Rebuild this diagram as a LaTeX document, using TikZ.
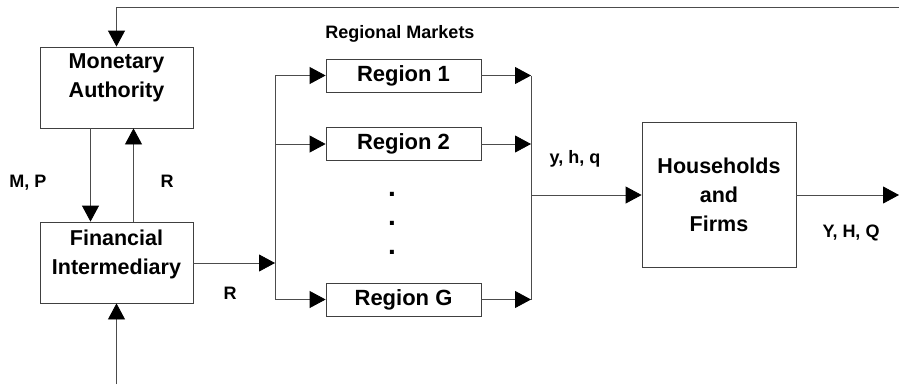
\documentclass[tikz,border=0pt]{standalone}
\usepackage{fontspec}
\setmainfont{Liberation Sans}
\usetikzlibrary{arrows.meta}

\begin{document}
\begin{tikzpicture}[x=1pt,y=-1pt,
        line width=0.8pt,
        >={Triangle[length=16pt,width=17pt,color=black]},
        box/.style={draw=black!75,align=center,inner sep=0pt,
            font=\bfseries\fontsize{21.5}{29}\selectfont},
        regionbox/.style={draw=black!75,inner sep=0pt,minimum width=155pt,minimum height=33pt,
            font=\bfseries\fontsize{22}{26}\selectfont},
        lbl/.style={anchor=base,inner sep=0pt,font=\bfseries\fontsize{18}{20}\selectfont},
        dotmark/.style={anchor=base,inner sep=0pt,font=\bfseries\fontsize{28}{30}\selectfont}]

        \useasboundingbox (0,0) rectangle (899,384);

        % left column
        \node[box,minimum width=153pt,minimum height=81pt,text depth=24pt] at (116.5,87.5) (mon) {Monetary\\Authority};
        \node[box,minimum width=153pt,minimum height=81pt,text depth=21pt] at (116.5,262.5) (fin) {Financial\\Intermediary};

        % regional markets
        \node[lbl] at (400,38) (rm) {Regional Markets};
        \node[regionbox] at (403.5,75.5) (r1) {Region 1};
        \node[regionbox] at (403.5,144) (r2) {Region 2};
        \node[regionbox] at (403.5,299.5) (rg) {Region G};
        \node[dotmark] at (392,196) (d1) {.};
        \node[dotmark] at (392,225) (d2) {.};
        \node[dotmark] at (392,254) (d3) {.};

        \node[box,minimum width=154pt,minimum height=145pt] at (719,195) (hh) {Households\\and\\Firms};

        % labels
        \node[lbl] at (28,187) (mp) {M, P};
        \node[lbl] at (167,187) (rup) {R};
        \node[lbl] at (230,299) (rout) {R};
        \node[lbl] at (575,163) (yhq) {y, h, q};
        \node[lbl] at (851,237) (YHQ) {Y, H, Q};

        \coordinate (lb) at (275,263);
        \coordinate (rb) at (531,195);
        \coordinate (fb) at (899,7);
        \coordinate (src) at (116.5,384);
        \coordinate (out) at (899,195);

        \begin{scope}[draw=black!70]
        \draw[->] (fb) -- (fb -| mon) -- (mon);
        \draw[->] ([xshift=-26pt]mon.south) -- ([xshift=-26pt]fin.north);
        \draw[->] ([xshift=17pt]fin.north) -- ([xshift=17pt]mon.south);
        \draw[->] (src) -- (fin);
        \draw[->] (fin.east |- lb) -- (lb);

        \draw (lb |- r1) -- (lb |- rg);
        \draw[->] (lb |- r1) -- (r1);
        \draw[->] (lb |- r2) -- (r2);
        \draw[->] (lb |- rg) -- (rg);

        \draw (rb |- r1) -- (rb |- rg);
        \draw[->] (r1) -- (rb |- r1);
        \draw[->] (r2) -- (rb |- r2);
        \draw[->] (rg) -- (rb |- rg);
        \draw[->] (rb) -- (hh);
        \draw[->] (hh) -- (out);
        \end{scope}

    \end{tikzpicture}
\end{document}
